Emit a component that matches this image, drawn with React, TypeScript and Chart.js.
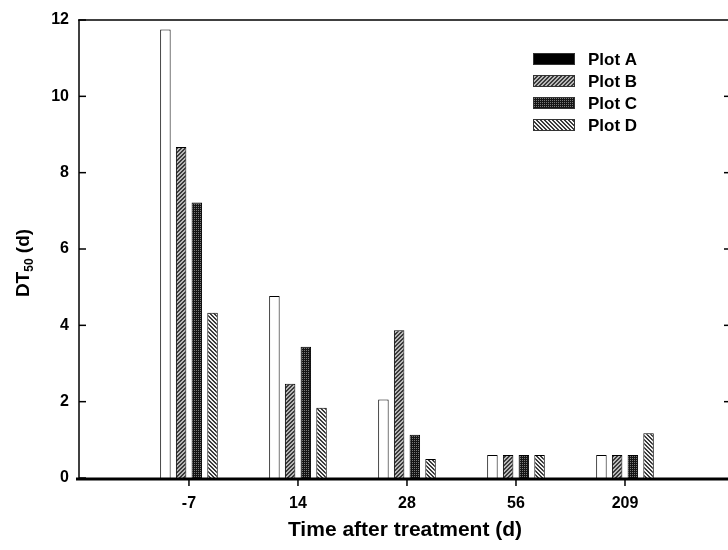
import React, { useEffect, useRef } from "react";
import { Chart, registerables } from "chart.js";

Chart.register(...registerables);

const categories = ["-7", "14", "28", "56", "209"];
const seriesNames = ["Plot A", "Plot B", "Plot C", "Plot D"];
const plotA = [11.75, 4.77, 2.06, 0.6, 0.6];
const plotB = [8.67, 2.47, 3.87, 0.6, 0.6];
const plotC = [7.22, 3.44, 1.13, 0.6, 0.6];
const plotD = [4.33, 1.84, 0.5, 0.6, 1.17];
const yTicks = [0, 2, 4, 6, 8, 10, 12];
const xTitle = "Time after treatment (d)";
const yTitleMain = "DT";
const yTitleSub = "50";
const yTitleTail = " (d)";

const FONT = "'Liberation Sans', Arial, sans-serif";

function makePattern(kind: string): CanvasPattern | string {
  const c = document.createElement("canvas");
  c.width = 4;
  c.height = 4;
  const g = c.getContext("2d")!;
  for (let x = 0; x < 4; x++) {
    for (let y = 0; y < 4; y++) {
      let col = "#ffffff";
      if (kind === "B") col = (x + y) % 4 < 2 ? "#3a3a3a" : "#b8b8b8";
      else if (kind === "D") col = (((x - y) % 4) + 4) % 4 < 2 ? "#3a3a3a" : "#f2f2f2";
      else if (kind === "C") col = x % 2 === 0 && y % 2 === 0 ? "#7a7a7a" : "#151515";
      g.fillStyle = col;
      g.fillRect(x, y, 1, 1);
    }
  }
  const p = g.createPattern(c, "repeat");
  return p || "#888";
}

export default function App() {
  const ref = useRef<HTMLCanvasElement | null>(null);

  useEffect(() => {
    if (!ref.current) return;
    const fills = ["#ffffff", makePattern("B"), makePattern("C"), makePattern("D")];
    const legendFills = ["#000000", fills[1], fills[2], fills[3]];
    const all = [plotA, plotB, plotC, plotD];

    const decor = {
      id: "decor",
      afterDraw(chart: any) {
        const ctx = chart.ctx as CanvasRenderingContext2D;
        const xs = chart.scales.x;
        const ys = chart.scales.y;
        const area = chart.chartArea;
        const y0 = ys.getPixelForValue(0);
        const yTop = ys.getPixelForValue(12);
        ctx.save();
        ctx.strokeStyle = "#000";
        ctx.lineWidth = 1.5;
        ctx.beginPath();
        ctx.moveTo(area.left, yTop);
        ctx.lineTo(728, yTop);
        ctx.stroke();
        ctx.beginPath();
        ctx.moveTo(area.left + 1, yTop);
        ctx.lineTo(area.left + 1, y0);
        ctx.stroke();
        yTicks.forEach((t) => {
          const py = ys.getPixelForValue(t);
          ctx.beginPath();
          ctx.moveTo(area.left + 1, py);
          ctx.lineTo(area.left + 8, py);
          ctx.stroke();
          if (t > 0 && t < 12) {
            ctx.beginPath();
            ctx.moveTo(724, py);
            ctx.lineTo(728, py);
            ctx.stroke();
          }
        });
        ctx.lineWidth = 3;
        ctx.beginPath();
        ctx.moveTo(area.left - 2, y0 + 1);
        ctx.lineTo(728, y0 + 1);
        ctx.stroke();
        ctx.lineWidth = 1.5;
        categories.forEach((c, i) => {
          const px = xs.getPixelForValue(i + 1);
          ctx.beginPath();
          ctx.moveTo(px, y0 + 2);
          ctx.lineTo(px, y0 + 8);
          ctx.stroke();
        });
        ctx.fillStyle = "#000";
        ctx.font = `bold 16px ${FONT}`;
        ctx.textAlign = "right";
        ctx.textBaseline = "middle";
        yTicks.forEach((t) => {
          ctx.fillText(String(t), area.left - 9, ys.getPixelForValue(t));
        });
        ctx.textAlign = "center";
        categories.forEach((c, i) => {
          ctx.fillText(c, xs.getPixelForValue(i + 1), y0 + 26);
        });
        ctx.font = `bold 21px ${FONT}`;
        ctx.fillText(xTitle, (area.left + 728) / 2 + 2, 530);
        ctx.save();
        ctx.translate(22, 263);
        ctx.rotate(-Math.PI / 2);
        ctx.textAlign = "left";
        ctx.textBaseline = "alphabetic";
        const fMain = `bold 19px ${FONT}`;
        const fSub = `bold 12px ${FONT}`;
        ctx.font = fMain;
        const w1 = ctx.measureText(yTitleMain).width;
        const w3 = ctx.measureText(yTitleTail).width;
        ctx.font = fSub;
        const w2 = ctx.measureText(yTitleSub).width;
        let x = -(w1 + w2 + w3) / 2;
        const base = 7;
        ctx.font = fMain;
        ctx.fillText(yTitleMain, x, base);
        x += w1;
        ctx.font = fSub;
        ctx.fillText(yTitleSub, x, base + 4);
        x += w2;
        ctx.font = fMain;
        ctx.fillText(yTitleTail, x, base);
        ctx.restore();
        ctx.font = `bold 17px ${FONT}`;
        ctx.textAlign = "left";
        ctx.textBaseline = "middle";
        seriesNames.forEach((n, i) => {
          const top = 53 + i * 22;
          ctx.fillStyle = legendFills[i] as any;
          ctx.fillRect(533, top, 42, 12);
          ctx.lineWidth = 1;
          ctx.strokeStyle = "#333";
          ctx.strokeRect(533.5, top + 0.5, 41, 11);
          ctx.fillStyle = "#000";
          ctx.fillText(n, 588, top + 7);
        });
        ctx.restore();
      },
    };

    const chart = new Chart(ref.current, {
      type: "bar",
      data: {
        datasets: all.map((vals, k) => ({
          label: seriesNames[k],
          data: vals.map((v, i) => ({ x: i + 1, y: v })),
          backgroundColor: fills[k] as any,
          borderColor: "#000",
          borderWidth: 1,
          categoryPercentage: 0.61,
          barPercentage: 0.667,
        })),
      },
      options: {
        animation: false,
        responsive: false,
        maintainAspectRatio: false,
        layout: { padding: { left: 78, top: 20, bottom: 72, right: 0 } },
        plugins: { legend: { display: false }, tooltip: { enabled: false } },
        scales: {
          x: { type: "linear", display: false, offset: false, grid: { offset: false }, min: -0.018, max: 5.945 },
          y: { type: "linear", display: false, min: 0, max: 12 },
        },
      },
      plugins: [decor],
    });
    return () => chart.destroy();
  }, []);

  return (
    <div style={{ position: "fixed", left: 0, top: 0, width: 728, height: 550, background: "#fff" }}>
      <canvas ref={ref} width={728} height={550} style={{ width: 728, height: 550 }} />
    </div>
  );
}
